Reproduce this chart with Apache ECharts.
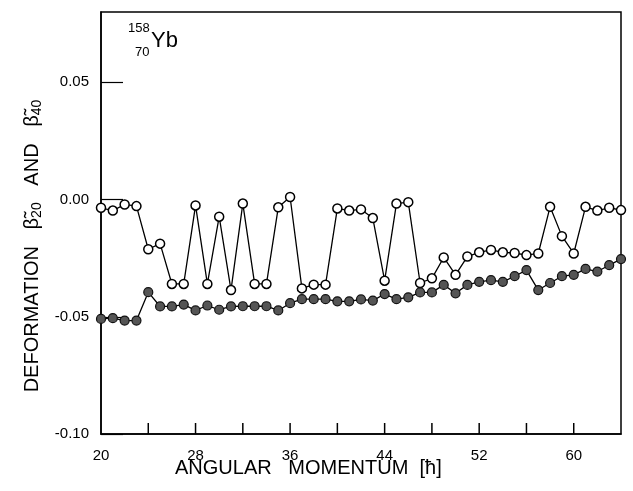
<!DOCTYPE html>
<html>
<head>
<meta charset="utf-8">
<script src="https://cdn.jsdelivr.net/npm/echarts@6/dist/echarts.min.js"></script>
<style>
  html, body { margin: 0; padding: 0; background: #fff; }
  #chart { width: 633px; height: 491px; }
</style>
</head>
<body>
<div id="chart"></div>
<script>
// angular momentum (hbar)
const spins = [20, 21, 22, 23, 24, 25, 26, 27, 28, 29, 30, 31, 32, 33, 34, 35, 36, 37, 38, 39, 40, 41, 42,
  43, 44, 45, 46, 47, 48, 49, 50, 51, 52, 53, 54, 55, 56, 57, 58, 59, 60, 61, 62, 63, 64];

// open circles
const beta20 = [-0.0035, -0.0047, -0.0021, -0.0028, -0.0212, -0.0188, -0.0360, -0.0360, -0.0025, -0.0360,
  -0.0073, -0.0386, -0.0017, -0.0360, -0.0360, -0.0033, 0.0011, -0.0379, -0.0363, -0.0363,
  -0.0038, -0.0047, -0.0042, -0.0079, -0.0346, -0.0017, -0.0011, -0.0356, -0.0336, -0.0247,
  -0.0321, -0.0243, -0.0225, -0.0215, -0.0225, -0.0228, -0.0237, -0.0230, -0.0031, -0.0156,
  -0.0230, -0.0031, -0.0047, -0.0035, -0.0045];

// filled circles
const beta40 = [-0.0509, -0.0506, -0.0516, -0.0516, -0.0395, -0.0456, -0.0456, -0.0448, -0.0473, -0.0452,
  -0.0470, -0.0456, -0.0455, -0.0455, -0.0455, -0.0473, -0.0442, -0.0425, -0.0425, -0.0425,
  -0.0434, -0.0434, -0.0426, -0.0431, -0.0403, -0.0425, -0.0417, -0.0396, -0.0396, -0.0364,
  -0.0400, -0.0364, -0.0351, -0.0344, -0.0351, -0.0327, -0.0301, -0.0386, -0.0356, -0.0327,
  -0.0321, -0.0296, -0.0307, -0.0280, -0.0254];

const xLabels = [20, 28, 36, 44, 52, 60];
const xTicks = [24, 28, 32, 36, 40, 44, 48, 52, 56, 60];
const yMin = -0.10;

const font = 'Liberation Sans, DejaVu Sans, sans-serif';
const chart = echarts.init(document.getElementById('chart'));

chart.setOption({
  animation: false,
  grid: { left: 101, right: 12, top: 12, bottom: 57, show: true, borderColor: '#000', borderWidth: 1.5 },
  xAxis: {
    type: 'value', min: 20, max: 64, interval: 4,
    axisLine: { show: true, onZero: false, lineStyle: { color: '#000', width: 1.5 } },
    axisTick: { show: false },
    splitLine: { show: false },
    axisLabel: {
      color: '#000', fontSize: 15, fontFamily: font, margin: 14,
      formatter: v => xLabels.includes(v) ? String(v) : ''
    }
  },
  yAxis: {
    type: 'value', min: yMin, max: 0.08, interval: 0.05,
    axisLine: { show: true, onZero: false, lineStyle: { color: '#000', width: 1.5 } },
    axisTick: { show: true, inside: true, length: 22, lineStyle: { color: '#000', width: 1.2 } },
    splitLine: { show: false },
    axisLabel: {
      color: '#000', fontSize: 15, fontFamily: font, margin: 12, showMaxLabel: false,
      formatter: v => v.toFixed(2)
    }
  },
  graphic: [
    { type: 'text', left: 128, top: 22, style: { text: '158', font: '13px ' + font, fill: '#000' } },
    { type: 'text', left: 135, top: 46, style: { text: '70', font: '13px ' + font, fill: '#000' } },
    { type: 'text', left: 151, top: 30, style: { text: 'Yb', font: '22px ' + font, fill: '#000' } },
    { type: 'text', left: 175, top: 458, style: { text: 'ANGULAR   MOMENTUM  [ħ]', font: '20px ' + font, fill: '#000' } },
    {
      type: 'text', x: 32, y: 246, rotation: Math.PI / 2,
      style: {
        text: 'DEFORMATION   β̃{s|20}   AND   β̃{s|40}',
        font: '20px ' + font, fill: '#000', align: 'center', verticalAlign: 'middle',
        rich: { s: { fontSize: 14, fontFamily: font, padding: [10, 0, 0, 0] } }
      }
    }
  ],
  series: [
    {
      // inward ticks on the bottom axis
      type: 'custom',
      data: xTicks.map(t => [t]),
      renderItem: (params, api) => {
        const p = api.coord([api.value(0), yMin]);
        return {
          type: 'line',
          shape: { x1: p[0], y1: p[1], x2: p[0], y2: p[1] - 11 },
          style: { stroke: '#000', lineWidth: 1.5 }
        };
      }
    },
    {
      type: 'line', data: spins.map((s, i) => [s, beta20[i]]),
      symbol: 'circle', symbolSize: 9, showAllSymbol: true,
      lineStyle: { color: '#000', width: 1.3 },
      itemStyle: { color: '#fff', borderColor: '#000', borderWidth: 1.5 }
    },
    {
      type: 'line', data: spins.map((s, i) => [s, beta40[i]]),
      symbol: 'circle', symbolSize: 9, showAllSymbol: true,
      lineStyle: { color: '#000', width: 1.3 },
      itemStyle: { color: '#555', borderColor: '#111', borderWidth: 1.2 }
    }
  ]
});
</script>
</body>
</html>
